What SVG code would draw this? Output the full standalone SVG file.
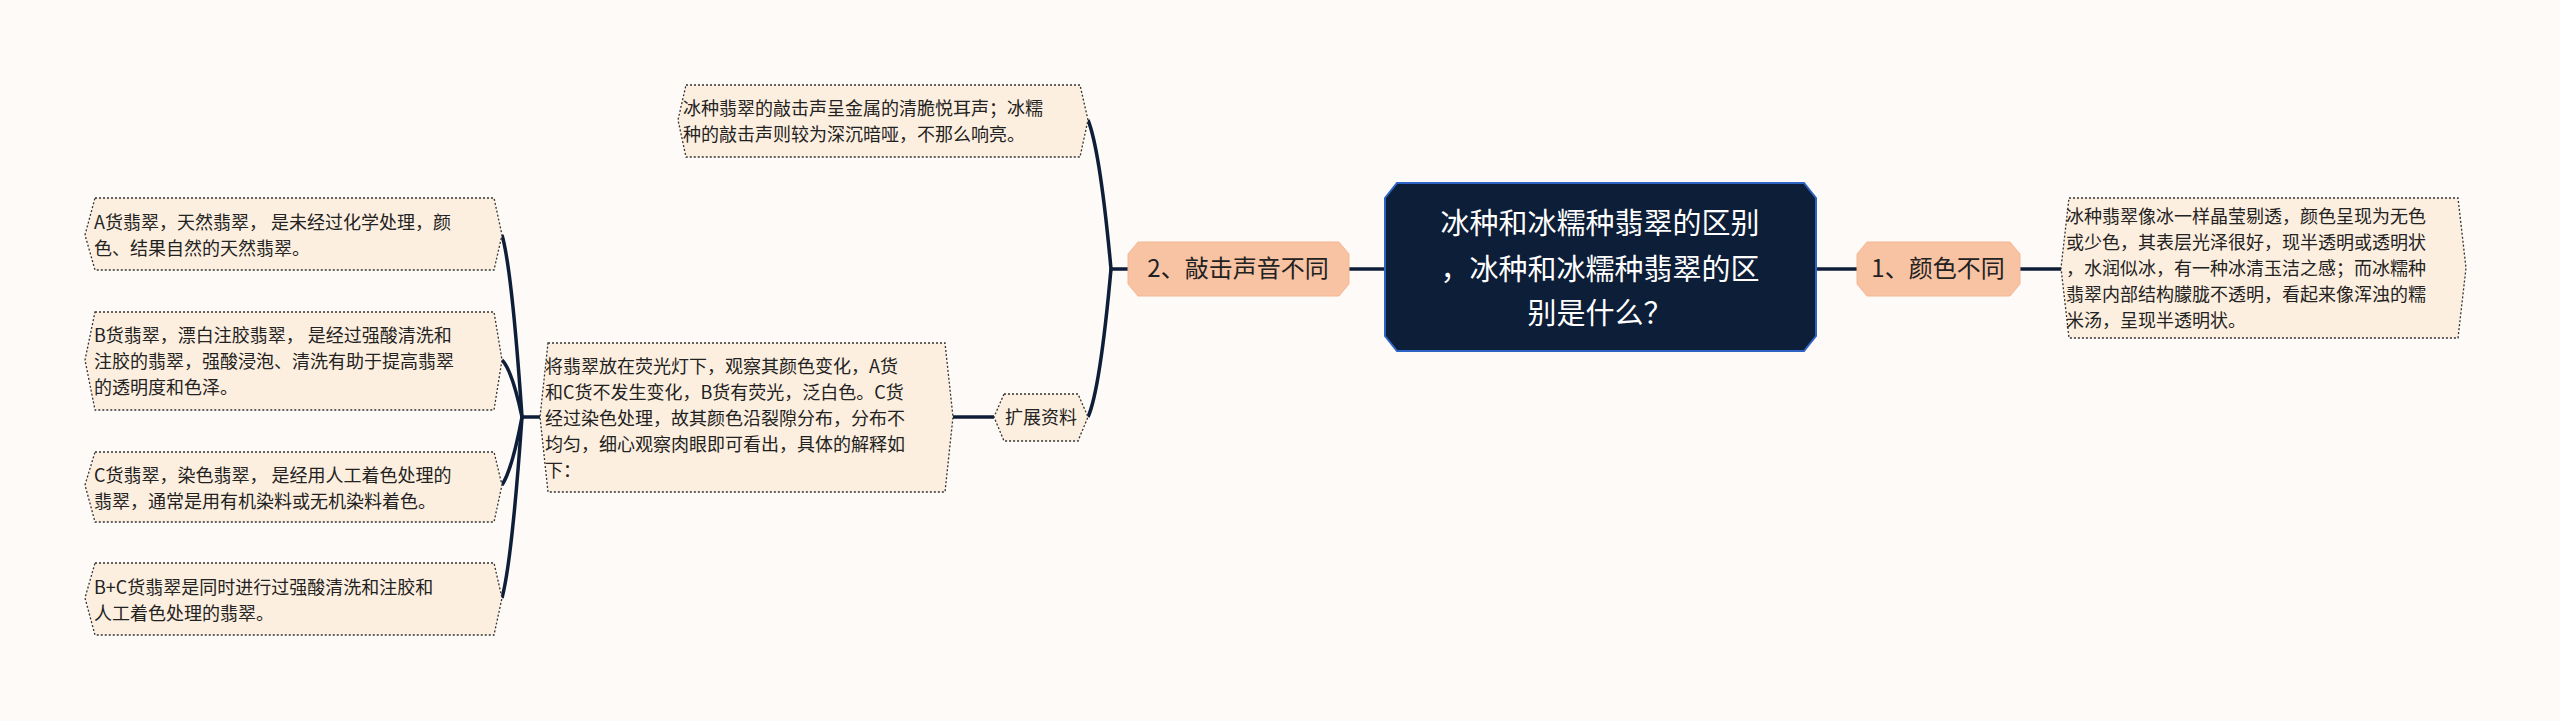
<svg xmlns="http://www.w3.org/2000/svg" width="2560" height="721" viewBox="0 0 2560 721">
<style>
text{font-family:"Noto Sans CJK SC","Liberation Sans",sans-serif;fill:#222}
.leaf{fill:#fdefdf;stroke:#333;stroke-width:1.3;stroke-dasharray:2 2}
.lt{font-size:18px}
.sub{fill:#f8c3a3;stroke:#f4b794;stroke-width:1}
.st{font-size:24px;text-anchor:middle}
.con{fill:none;stroke:#0e1e38;stroke-width:3.5}
</style>
<rect width="2560" height="721" fill="#fdfaf8"/>
<g id="connectors">
<path class="con" d="M1816 269 H1857"/>
<path class="con" d="M2020 269 H2061"/>
<path class="con" d="M1349 269 H1385"/>
<path class="con" d="M1349 269 H1111 Q1100 150 1088 120"/>
<path class="con" d="M1111 269 Q1100 390 1088 417"/>
<path class="con" d="M953 417 H994"/>
<path class="con" d="M540 417 H522 Q512 270 502 235"/>
<path class="con" d="M522 417 Q512 370 502 360"/>
<path class="con" d="M522 417 Q512 470 502 485"/>
<path class="con" d="M522 417 Q512 560 502 598"/>
</g>
<g id="root">
<polygon points="1397,183 1804,183 1816,198 1816,336 1804,351 1397,351 1385,336 1385,198" fill="#0d1e38" stroke="#2d63c4" stroke-width="2"/>
<text x="1600" y="234" font-size="29" text-anchor="middle" style="fill:#fff">冰种和冰糯种翡翠的区别</text>
<text x="1600" y="280" font-size="29" text-anchor="middle" style="fill:#fff">，冰种和冰糯种翡翠的区</text>
<text x="1600" y="324" font-size="29" text-anchor="middle" style="fill:#fff">别是什么？</text>
</g>
<g id="n1">
<polygon class="sub" points="1867,242 2010,242 2020,254 2020,284 2010,296 1867,296 1857,284 1857,254"/>
<text class="st" x="1938" y="277">1、颜色不同</text>
</g>
<g id="n1leaf">
<polygon class="leaf" points="2069,198 2458,198 2466,268 2458,338 2069,338 2061,268"/>
<text class="lt" x="2066" y="223">冰种翡翠像冰一样晶莹剔透，颜色呈现为无色</text>
<text class="lt" x="2066" y="249">或少色，其表层光泽很好，现半透明或透明状</text>
<text class="lt" x="2066" y="275">，水润似冰，有一种冰清玉洁之感；而冰糯种</text>
<text class="lt" x="2066" y="301">翡翠内部结构朦胧不透明，看起来像浑浊的糯</text>
<text class="lt" x="2066" y="327">米汤，呈现半透明状。</text>
</g>
<g id="n2">
<polygon class="sub" points="1138,242 1339,242 1349,254 1349,284 1339,296 1138,296 1128,284 1128,254"/>
<text class="st" x="1238" y="277">2、敲击声音不同</text>
</g>
<g id="n2leaf">
<polygon class="leaf" points="686,85 1080,85 1088,120 1080,157 686,157 678,120"/>
<text class="lt" x="683" y="115">冰种翡翠的敲击声呈金属的清脆悦耳声；冰糯</text>
<text class="lt" x="683" y="141">种的敲击声则较为深沉暗哑，不那么响亮。</text>
</g>
<g id="ext">
<polygon class="leaf" points="1004,394 1078,394 1088,417 1078,441 1004,441 994,417"/>
<text class="lt" x="1041" y="424" text-anchor="middle">扩展资料</text>
</g>
<g id="extleaf">
<polygon class="leaf" points="548,343 945,343 953,417 945,492 548,492 540,417"/>
<text class="lt" x="545" y="373">将翡翠放在荧光灯下，观察其颜色变化，A货</text>
<text class="lt" x="545" y="399">和C货不发生变化，B货有荧光，泛白色。C货</text>
<text class="lt" x="545" y="425">经过染色处理，故其颜色沿裂隙分布，分布不</text>
<text class="lt" x="545" y="451">均匀，细心观察肉眼即可看出，具体的解释如</text>
<text class="lt" x="545" y="477">下：</text>
</g>
<g id="A">
<polygon class="leaf" points="95,198 494,198 502,235 494,270 95,270 85,235"/>
<text class="lt" x="94" y="229">A货翡翠，天然翡翠， 是未经过化学处理，颜</text>
<text class="lt" x="94" y="255">色、结果自然的天然翡翠。</text>
</g>
<g id="B">
<polygon class="leaf" points="95,312 494,312 502,360 494,410 95,410 85,360"/>
<text class="lt" x="94" y="342">B货翡翠，漂白注胶翡翠， 是经过强酸清洗和</text>
<text class="lt" x="94" y="368">注胶的翡翠，强酸浸泡、清洗有助于提高翡翠</text>
<text class="lt" x="94" y="394">的透明度和色泽。</text>
</g>
<g id="C">
<polygon class="leaf" points="95,452 494,452 502,485 494,522 95,522 85,485"/>
<text class="lt" x="94" y="482">C货翡翠，染色翡翠， 是经用人工着色处理的</text>
<text class="lt" x="94" y="508">翡翠，通常是用有机染料或无机染料着色。</text>
</g>
<g id="BC">
<polygon class="leaf" points="95,563 494,563 502,598 494,635 95,635 85,598"/>
<text class="lt" x="94" y="594">B+C货翡翠是同时进行过强酸清洗和注胶和</text>
<text class="lt" x="94" y="620">人工着色处理的翡翠。</text>
</g>
</svg>
